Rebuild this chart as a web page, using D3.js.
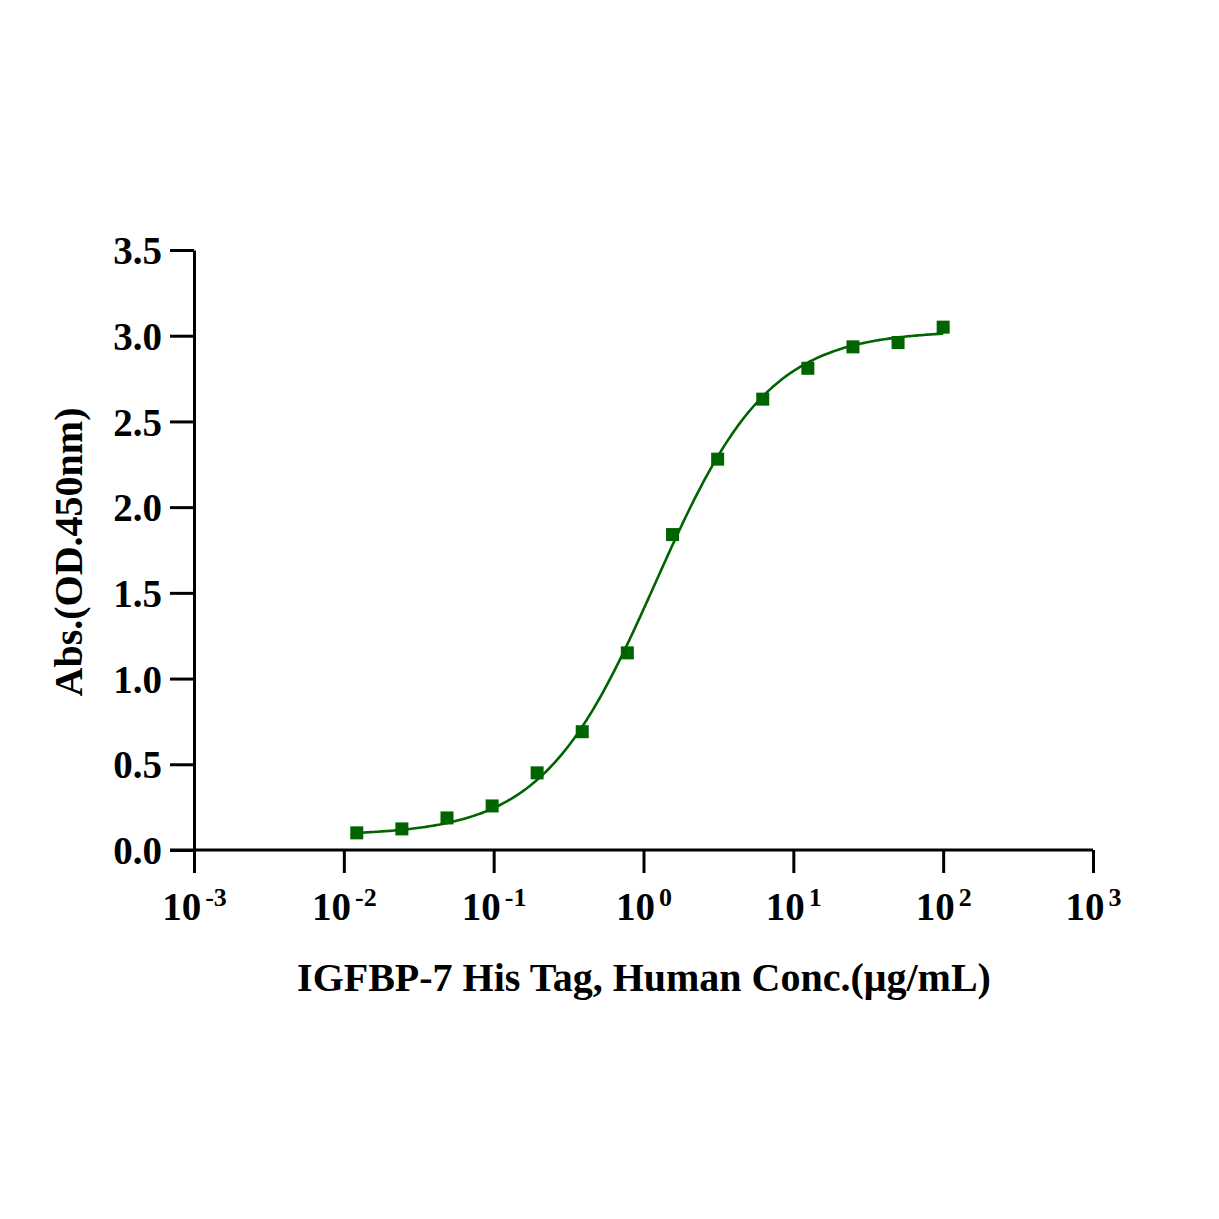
<!DOCTYPE html>
<html><head><meta charset="utf-8">
<script src="https://cdn.jsdelivr.net/npm/d3@7"></script>
<style>body{margin:0;background:#fff}svg{display:block}</style>
</head><body>
<script>
const conc = [0.0122, 0.0244, 0.0488, 0.0977, 0.195, 0.39, 0.78, 1.5625, 3.125, 6.25, 12.5, 25, 50, 100];
const absorbance = [0.10, 0.123, 0.187, 0.257, 0.45, 0.69, 1.15, 1.84, 2.28, 2.63, 2.81, 2.935, 2.96, 3.05];
// 4PL fit parameters: bottom, top, EC50, hill
const fitParams = [0.085, 3.03, 1.2, 1.15];
const yTicks = [0, 0.5, 1.0, 1.5, 2.0, 2.5, 3.0, 3.5];
const xTickExps = [-3, -2, -1, 0, 1, 2, 3];
const xTitle = "IGFBP-7 His Tag, Human Conc.(μg/mL)";
const yTitle = "Abs.(OD.450nm)";

const W = 1219, H = 1219;
const color = "#006400";
const font = "'Liberation Serif','Times New Roman',serif";
const svg = d3.select("body").append("svg").attr("width", W).attr("height", H);
const x = d3.scaleLog().domain([1e-3, 1e3]).range([194, 1093]);
const y = d3.scaleLinear().domain([0, 3.5]).range([850, 250]);

// axes
const yAxis = svg.append("g").attr("transform", "translate(194,0)")
  .call(d3.axisLeft(y).tickValues(yTicks).tickSize(24).tickSizeOuter(0).tickFormat(d3.format(".1f")));
yAxis.select(".domain").attr("stroke-width", 3).attr("stroke", "#000");
yAxis.selectAll(".tick line").attr("stroke-width", 3).attr("stroke", "#000");
yAxis.selectAll(".tick text").attr("x", -32).attr("dy", "0.35em")
  .attr("font-family", font).attr("font-weight", "bold").attr("font-size", 39).attr("fill", "#000");

const xAxis = svg.append("g").attr("transform", "translate(0,850)")
  .call(d3.axisBottom(x).tickValues(xTickExps.map(e => Math.pow(10, e))).tickSize(23).tickSizeOuter(0).tickFormat(""));
xAxis.select(".domain").attr("stroke-width", 3).attr("stroke", "#000").attr("d", "M170,0H1093");
xAxis.selectAll(".tick line").attr("stroke-width", 3).attr("stroke", "#000");
xAxis.selectAll(".tick").each(function(d, i) {
  const t = d3.select(this).append("text").attr("y", 70).attr("text-anchor", "middle")
    .attr("font-family", font).attr("font-weight", "bold").attr("font-size", 39).attr("fill", "#000");
  t.append("tspan").text("10");
  t.append("tspan").attr("dx", 4).attr("dy", -14).attr("font-size", 26).text(String(xTickExps[i]));
});

// fit curve
const [A, D, C, B] = fitParams;
const f = v => D + (A - D) / (1 + Math.pow(v / C, B));
const lo = Math.log10(conc[0]), hi = Math.log10(conc[conc.length - 1]);
const xs = d3.range(0, 301).map(i => Math.pow(10, lo + i * (hi - lo) / 300));
svg.append("path").datum(xs)
  .attr("d", d3.line().x(d => x(d)).y(d => y(f(d))))
  .attr("fill", "none").attr("stroke", color).attr("stroke-width", 2.6);

// markers
svg.append("g").selectAll("rect").data(conc).join("rect")
  .attr("x", d => x(d) - 6.5).attr("y", (d, i) => y(absorbance[i]) - 6.5)
  .attr("width", 13).attr("height", 13).attr("fill", color);

// titles
svg.append("text").attr("x", 644).attr("y", 991).attr("text-anchor", "middle")
  .attr("font-family", font).attr("font-weight", "bold").attr("font-size", 40).attr("fill", "#000").text(xTitle);
svg.append("text").attr("transform", "translate(82,552) rotate(-90)").attr("text-anchor", "middle")
  .attr("font-family", font).attr("font-weight", "bold").attr("font-size", 40).attr("fill", "#000").text(yTitle);
</script>
</body></html>
